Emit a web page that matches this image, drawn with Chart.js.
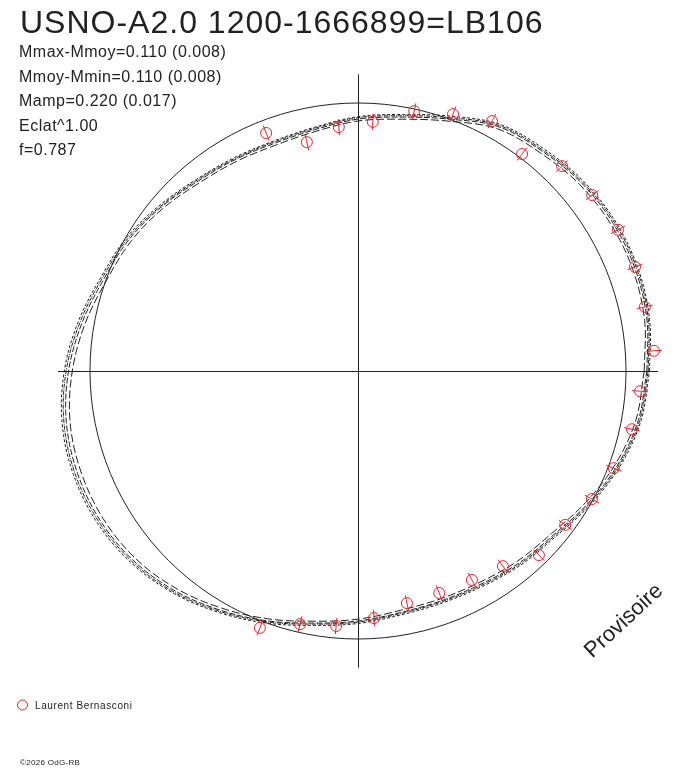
<!DOCTYPE html>
<html>
<head>
<meta charset="utf-8">
<script src="https://cdn.jsdelivr.net/npm/chart.js@4/dist/chart.umd.min.js"></script>
<style>
html,body{margin:0;padding:0;background:#fff;}
canvas{display:block;}
</style>
</head>
<body>
<canvas id="c" width="688" height="768"></canvas>
<script>
// ---- Data (polar: angle in degrees, radius normalised to the reference circle) ----
const titleText = "USNO-A2.0 1200-1666899=LB106";
const infoLines = ["Mmax-Mmoy=0.110 (0.008)", "Mmoy-Mmin=0.110 (0.008)", "Mamp=0.220 (0.017)", "Eclat^1.00", "f=0.787"];
const observer = "Laurent Bernasconi";
const copyright = "\u00A92026 OdG-RB";
const watermark = "Provisoire";

// observations
const obsAngle = [111.1,102.6,94.5,86.6,77.8,69.7,61.8,52.9,45.1,36.9,28.5,20.6,12.6,3.9,-4.1,-12.0,-20.8,-28.7,-36.6,-45.5,-53.4,-61.4,-69.9,-78.1,-86.3,-94.9,-102.9,-110.9];
const obsRadius = [0.952,0.875,0.913,0.931,0.992,1.022,1.058,1.015,1.079,1.093,1.104,1.104,1.097,1.107,1.055,1.045,1.021,0.995,0.963,0.963,0.907,0.888,0.882,0.885,0.924,0.955,0.969,1.026];
const obsError = 0.030;

// fitted curves, sampled every 10 degrees from 0 to 350
const fitAngles = [0,10,20,30,40,50,60,70,80,90,100,110,120,130,140,150,160,170,180,190,200,210,220,230,240,250,260,270,280,290,300,310,320,330,340,350];
const fitA = [1.078,1.095,1.102,1.100,1.090,1.070,1.052,1.000,0.962,0.940,0.915,0.905,0.912,0.926,0.955,0.985,1.008,1.045,1.080,1.105,1.114,1.112,1.097,1.068,1.030,0.992,0.955,0.933,0.915,0.912,0.918,0.935,0.952,0.990,1.030,1.062];
const fitB = [1.088,1.105,1.113,1.111,1.100,1.081,1.062,1.012,0.972,0.949,0.924,0.914,0.920,0.935,0.964,0.997,1.021,1.060,1.096,1.121,1.130,1.126,1.109,1.079,1.040,1.001,0.964,0.942,0.924,0.921,0.928,0.945,0.962,1.000,1.040,1.072];
const fitC = [1.068,1.086,1.093,1.091,1.081,1.061,1.043,0.992,0.954,0.933,0.908,0.897,0.904,0.918,0.947,0.975,0.997,1.033,1.066,1.091,1.100,1.099,1.086,1.058,1.021,0.984,0.948,0.926,0.907,0.904,0.910,0.926,0.943,0.981,1.021,1.053];
const fitD = [1.083,1.100,1.108,1.106,1.095,1.075,1.057,1.006,0.967,0.945,0.920,0.910,0.916,0.931,0.959,0.991,1.015,1.053,1.089,1.114,1.123,1.119,1.103,1.074,1.035,0.996,0.959,0.937,0.919,0.916,0.923,0.940,0.957,0.995,1.035,1.067];

const refRadius = 1.0;      // reference circle
const axisExtentX = 1.12;
const axisExtentY = 1.107;

// ---- helpers ----
const rad = d => d * Math.PI / 180;
function polar(a, r){ return {x: r*Math.cos(rad(a)), y: r*Math.sin(rad(a))}; }
function curve(rs){
  const pts = fitAngles.map((a,i)=>polar(a, rs[i]));
  pts.push(pts[0]);
  return pts;
}
const obsPoints = obsAngle.map((a,i)=>polar(a, obsRadius[i]));
const errSegs = [];
obsAngle.forEach((a,i)=>{
  errSegs.push(polar(a, obsRadius[i]-obsError));
  errSegs.push(polar(a, obsRadius[i]+obsError));
  errSegs.push({x: null, y: null});
});

const RED = '#e8262e';
const INK = '#222222';

function fitDataset(label, rs, dash){
  return {type:'line', label, data: curve(rs), borderColor: INK, borderWidth: 1,
    borderDash: dash, pointRadius: 0, tension: 0.35, fill: false, order: 3};
}

const decor = {
  id: 'decor',
  beforeDatasetsDraw(chart){
    const {ctx, scales:{x, y}} = chart;
    const cx = x.getPixelForValue(0), cy = y.getPixelForValue(0);
    ctx.save();
    ctx.strokeStyle = INK; ctx.lineWidth = 1;
    ctx.beginPath();
    ctx.moveTo(x.getPixelForValue(-axisExtentX), cy + 0.5);
    ctx.lineTo(x.getPixelForValue(axisExtentX), cy + 0.5);
    ctx.moveTo(cx + 0.5, y.getPixelForValue(axisExtentY));
    ctx.lineTo(cx + 0.5, y.getPixelForValue(-axisExtentY));
    ctx.stroke();
    const rp = x.getPixelForValue(refRadius) - cx;
    ctx.beginPath();
    ctx.arc(cx, cy, rp, 0, Math.PI*2);
    ctx.stroke();
    ctx.restore();
  },
  afterDraw(chart){
    const ctx = chart.ctx;
    ctx.save();
    ctx.fillStyle = INK;
    ctx.textBaseline = 'alphabetic';
    ctx.font = "32px 'Liberation Sans', Arial, sans-serif";
    ctx.letterSpacing = '1px';
    ctx.fillText(titleText, 20, 33);
    ctx.font = "16px 'Liberation Sans', Arial, sans-serif";
    ctx.letterSpacing = '0.5px';
    infoLines.forEach((t,i)=> ctx.fillText(t, 19, 57 + i*24.5));
    // observer legend
    ctx.strokeStyle = RED; ctx.lineWidth = 1;
    ctx.beginPath(); ctx.arc(22.5, 705, 5, 0, Math.PI*2); ctx.stroke();
    ctx.font = "10px 'Liberation Sans', Arial, sans-serif";
    ctx.letterSpacing = '0.6px';
    ctx.fillText(observer, 35, 709);
    ctx.font = "8px 'Liberation Sans', Arial, sans-serif";
    ctx.letterSpacing = '0.3px';
    ctx.fillText(copyright, 20, 765);
    // watermark
    ctx.translate(624, 621);
    ctx.rotate(-43*Math.PI/180);
    ctx.font = "22px 'Liberation Sans', Arial, sans-serif";
    ctx.letterSpacing = '0px';
    ctx.textAlign = 'center';
    ctx.textBaseline = 'middle';
    ctx.fillText(watermark, 0, 0);
    ctx.restore();
  }
};

const R_PX = 268, CX = 358, CY = 371, W = 688, H = 768;

new Chart(document.getElementById('c'), {
  type: 'scatter',
  data: {
    datasets: [
      {type:'scatter', label: observer, data: obsPoints, pointStyle:'circle', pointRadius: 5.5,
       pointBorderColor: RED, pointBackgroundColor: 'rgba(0,0,0,0)', pointBorderWidth: 1, order: 1},
      {type:'line', label:'errors', data: errSegs, borderColor: RED, borderWidth: 1, pointRadius: 0,
       spanGaps: false, tension: 0, fill: false, order: 2},
      fitDataset('fit 1', fitA, [6,2]),
      fitDataset('fit 2', fitB, [3,2]),
      fitDataset('fit 3', fitC, [8,3]),
      fitDataset('fit 4', fitD, [4,1,1,1])
    ]
  },
  options: {
    responsive: false,
    animation: false,
    devicePixelRatio: 1,
    layout: {padding: 0, autoPadding: false},
    plugins: {legend:{display:false}, tooltip:{enabled:false}, title:{display:false}},
    scales: {
      x: {type:'linear', display:false, min: -CX/R_PX, max: (W-CX)/R_PX},
      y: {type:'linear', display:false, min: -(H-CY)/R_PX, max: CY/R_PX}
    }
  },
  plugins: [decor]
});
</script>
</body>
</html>
